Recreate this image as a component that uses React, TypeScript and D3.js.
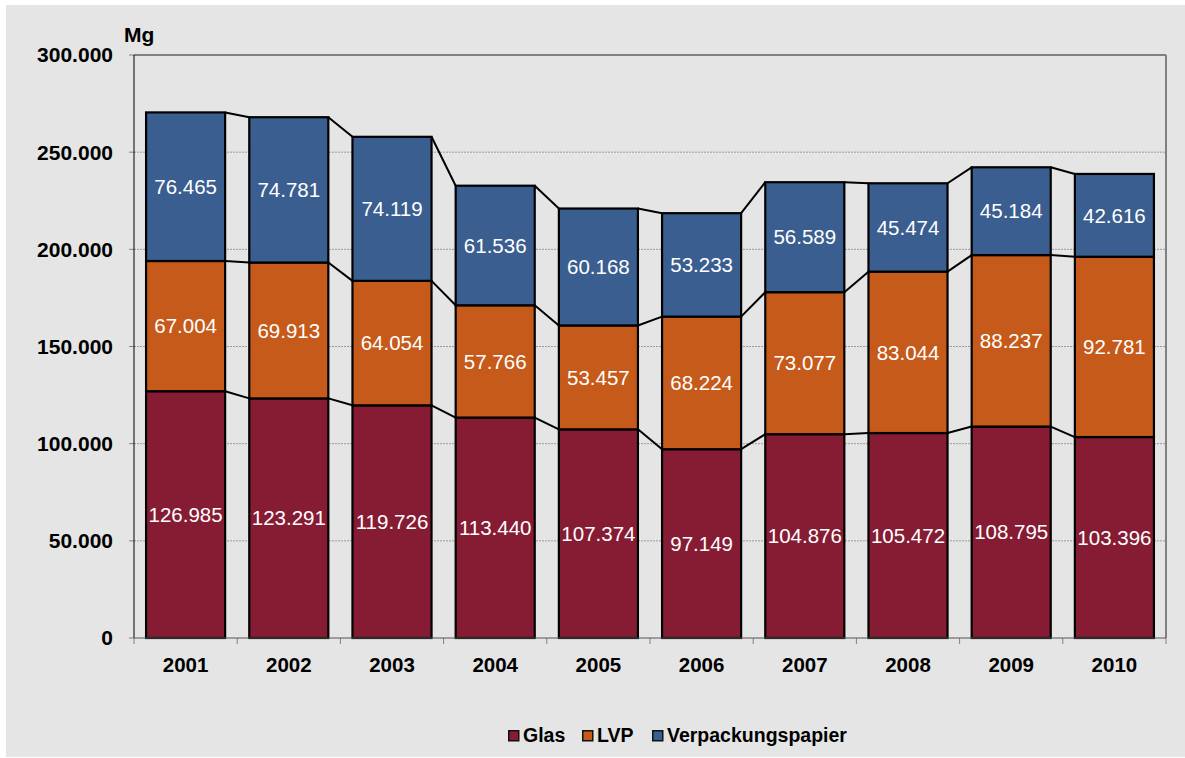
import React from "react";
import * as d3 from "d3";

const years = ["2001", "2002", "2003", "2004", "2005", "2006", "2007", "2008", "2009", "2010"];
const glas = [126985, 123291, 119726, 113440, 107374, 97149, 104876, 105472, 108795, 103396];
const lvp = [67004, 69913, 64054, 57766, 53457, 68224, 73077, 83044, 88237, 92781];
const papier = [76465, 74781, 74119, 61536, 60168, 53233, 56589, 45474, 45184, 42616];
const seriesNames = ["Glas", "LVP", "Verpackungspapier"];
const seriesColors = ["#861c33", "#c55a1a", "#3a5e8f"];
const yTicks = [0, 50000, 100000, 150000, 200000, 250000, 300000];

const W = 1185;
const H = 758;
const plot = { left: 134, right: 1166, top: 55, bottom: 638 };

const locale = d3.formatLocale({ decimal: ",", thousands: ".", grouping: [3], currency: ["", " €"] });
const fmt = locale.format(",d");

export default function App() {
  const data = years.map((y, i) => ({ year: y, Glas: glas[i], LVP: lvp[i], Verpackungspapier: papier[i] }));
  const stack = d3.stack<any>().keys(seriesNames)(data);

  const x = d3.scaleBand<string>().domain(years).range([plot.left, plot.right]).padding(0);
  const y = d3.scaleLinear().domain([0, 300000]).range([plot.bottom, plot.top]);
  const barW = x.bandwidth() * 0.766;
  const off = (x.bandwidth() - barW) / 2;

  const font = "Liberation Sans, Arial, sans-serif";

  return (
    <div style={{ position: "absolute", left: 0, top: 0 }}>
      <svg width={W} height={H} style={{ display: "block" }} fontFamily={font}>
        <rect x={0} y={0} width={W} height={H} fill="#ffffff" />
        <rect x={6} y={5} width={W - 6} height={752} fill="#e5e5e5" />

        {/* gridlines */}
        {yTicks.filter((t) => t > 0 && t < 300000).map((t) => (
          <line key={"g" + t} x1={plot.left} x2={plot.right} y1={y(t)} y2={y(t)}
            stroke="#9a9a9a" strokeWidth={1} strokeDasharray="2,1" />
        ))}

        {/* plot border */}
        <line x1={plot.left} x2={plot.right} y1={plot.top} y2={plot.top} stroke="#808080" strokeWidth={2} />
        <line x1={plot.right} x2={plot.right} y1={plot.top} y2={plot.bottom} stroke="#808080" strokeWidth={2} />

        {/* y ticks */}
        {yTicks.map((t) => (
          <g key={"yt" + t}>
            <line x1={plot.left - 5} x2={plot.left} y1={y(t)} y2={y(t)} stroke="#808080" strokeWidth={1} />
            <text x={113} y={y(t)} dy="0.35em" textAnchor="end" fontSize={21} fontWeight="bold" fill="#000">
              {fmt(t)}
            </text>
          </g>
        ))}
        <text x={124} y={41.5} fontSize={21} fontWeight="bold" fill="#000">Mg</text>

        {/* x ticks */}
        {years.map((yr) => (
          <line key={"xt" + yr} x1={x(yr) as number} x2={x(yr) as number}
            y1={plot.bottom} y2={plot.bottom + 6} stroke="#808080" strokeWidth={1} />
        ))}
        <line x1={plot.right} x2={plot.right} y1={plot.bottom} y2={plot.bottom + 6} stroke="#808080" strokeWidth={1} />

        {/* connector lines */}
        {stack.map((layer) => (
          <g key={"c" + layer.key}>
            {layer.slice(0, -1).map((d, i) => {
              const x1 = (x(years[i]) as number) + off + barW;
              const x2 = (x(years[i + 1]) as number) + off;
              return (
                <line key={i} x1={x1} x2={x2} y1={y(d[1])} y2={y(layer[i + 1][1])}
                  stroke="#000" strokeWidth={2} />
              );
            })}
          </g>
        ))}

        {/* bars */}
        {stack.map((layer, si) => (
          <g key={"b" + layer.key}>
            {layer.map((d, i) => (
              <rect key={i} x={(x(years[i]) as number) + off} y={y(d[1])} width={barW}
                height={y(d[0]) - y(d[1])} fill={seriesColors[si]} stroke="#000" strokeWidth={2.2} />
            ))}
          </g>
        ))}

        {/* axes */}
        <line x1={plot.left} x2={plot.left} y1={plot.top} y2={plot.bottom} stroke="#000" strokeWidth={1} />
        <line x1={plot.left} x2={plot.right} y1={plot.bottom} y2={plot.bottom} stroke="#555" strokeWidth={1} />

        {/* value labels */}
        {stack.map((layer) => (
          <g key={"l" + layer.key}>
            {layer.map((d, i) => (
              <text key={i} x={(x(years[i]) as number) + x.bandwidth() / 2} y={(y(d[0]) + y(d[1])) / 2}
                dy="0.35em" textAnchor="middle" fontSize={20.5} fill="#ffffff">
                {fmt(d[1] - d[0])}
              </text>
            ))}
          </g>
        ))}

        {/* x labels */}
        {years.map((yr) => (
          <text key={"xl" + yr} x={(x(yr) as number) + x.bandwidth() / 2} y={672} textAnchor="middle"
            fontSize={20.5} fontWeight="bold" fill="#000">
            {yr}
          </text>
        ))}

        {/* legend */}
        {seriesNames.map((s, i) => {
          const lx = [508, 582, 652][i];
          return (
            <g key={"lg" + s}>
              <rect x={lx + 0.75} y={730.75} width={10} height={10} fill={seriesColors[i]} stroke="#111" strokeWidth={1.5} />
              <text x={lx + 15} y={742} fontSize={19.5} fontWeight="bold" fill="#000">{s}</text>
            </g>
          );
        })}
      </svg>
    </div>
  );
}
